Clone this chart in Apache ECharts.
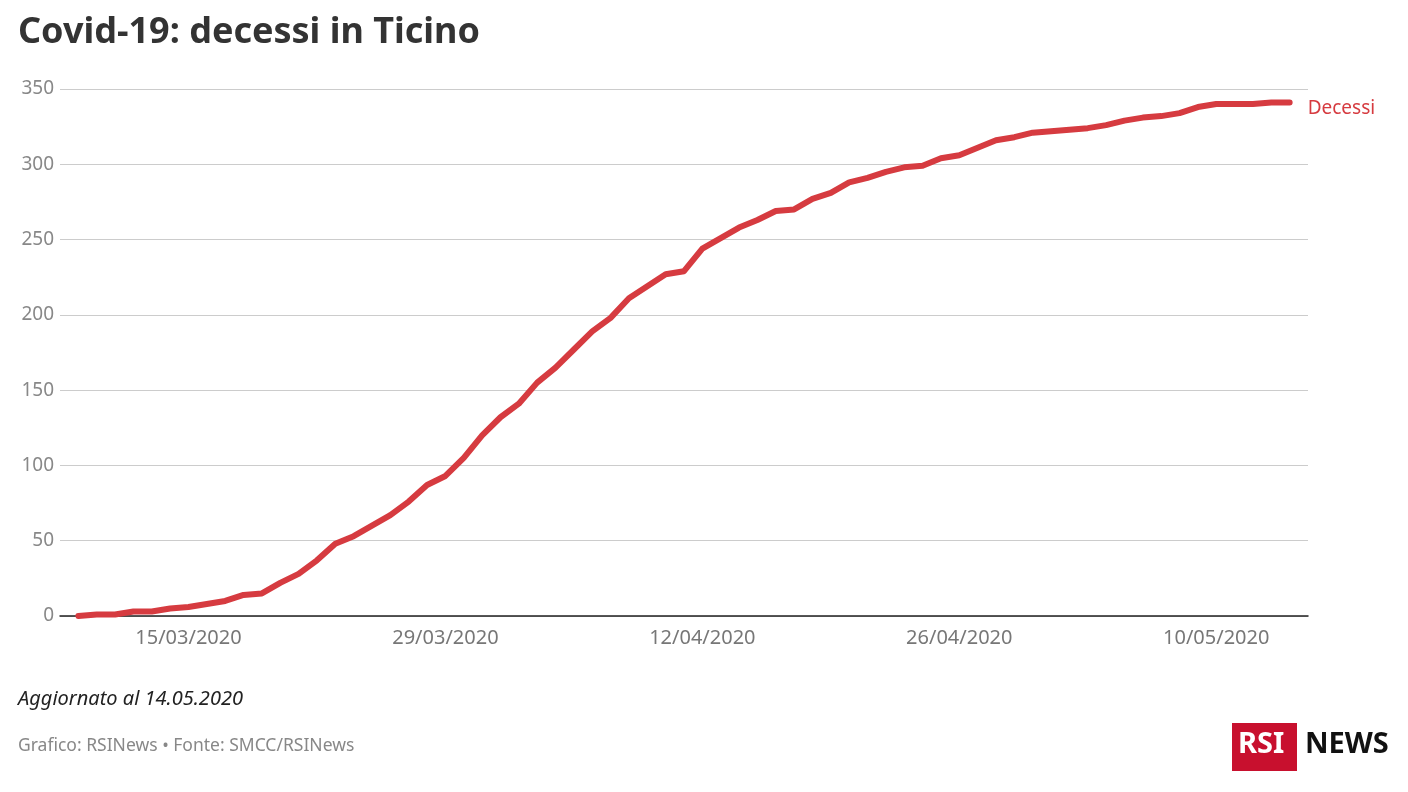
<!DOCTYPE html>
<html><head><meta charset="utf-8">
<script src="https://cdn.jsdelivr.net/npm/echarts@6/dist/echarts.min.js"></script>
<style>html,body{margin:0;background:#fff}#chart{width:1408px;height:792px}</style>
</head><body><div id="chart"></div>
<script>
var startDate = '09/03/2020';
var deaths = [0,1,1,3,3,5,6,8,10,14,15,22,28,37,48,53,60,67,76,87,93,105,120,132,141,155,165,177,189,198,211,219,227,229,244,251,258,263,269,270,277,281,288,291,295,298,299,304,306,311,316,318,321,322,323,324,326,329,331,332,334,338,340,340,340,341,341];
var tickDays = [6, 20, 34, 48, 62];
var tickLabels = ['15/03/2020','29/03/2020','12/04/2020','26/04/2020','10/05/2020'];

var points = deaths.map(function(v,i){ return [i, v]; });

var chart = echarts.init(document.getElementById('chart'));
chart.setOption({
  animation: false,
  textStyle: {fontFamily: 'Noto Sans'},
  title: {
    text: 'Covid-19: decessi in Ticino', left: 13, top: 10,
    textStyle: {fontSize: 36, fontWeight: 'bold', color: '#333', fontFamily: 'Noto Sans'}
  },
  grid: {left: 60, right: 100, top: 89, bottom: 176},
  xAxis: {
    type: 'value', min: -1, max: deaths.length,
    axisLine: {lineStyle: {color: '#222', width: 1.5}},
    axisTick: {show: false},
    splitLine: {show: false},
    axisLabel: {
      customValues: tickDays, color: '#777', fontSize: 20, margin: 12,
      formatter: function(v){ var k = tickDays.indexOf(Math.round(v)); return k >= 0 ? tickLabels[k] : ''; }
    }
  },
  yAxis: {
    type: 'value', min: 0, max: 350, interval: 50,
    axisLine: {show: false}, axisTick: {show: false},
    axisLabel: {color: '#888', fontSize: 19, margin: 6},
    splitLine: {lineStyle: {color: '#ccc', width: 1}}
  },
  series: [{
    name: 'Decessi', type: 'line', data: points, showSymbol: false,
    lineStyle: {color: '#d63b40', width: 6, cap: 'round', join: 'round'},
    endLabel: {show: true, formatter: 'Decessi', color: '#d63b40', fontSize: 19, offset: [10, 6]}
  }],
  graphic: [
    {type: 'text', left: 18, top: 689, style: {text: 'Aggiornato al 14.05.2020', fontSize: 20, fontStyle: 'italic', fill: '#222', fontFamily: 'Noto Sans'}},
    {type: 'text', left: 18, top: 737, style: {text: 'Grafico: RSINews • Fonte: SMCC/RSINews', fontSize: 17.5, fill: '#888', fontFamily: 'Noto Sans'}},
    {type: 'rect', left: 1232, top: 723, shape: {width: 65, height: 48}, style: {fill: '#c8102e'}},
    {type: 'text', left: 1238, top: 730, style: {text: 'RSI', fontSize: 29, fontWeight: 'bold', fill: '#fff', fontFamily: 'Noto Sans'}},
    {type: 'text', left: 1305, top: 730, style: {text: 'NEWS', fontSize: 29, fontWeight: 'bold', fill: '#111', fontFamily: 'Noto Sans'}}
  ]
});
</script></body></html>
